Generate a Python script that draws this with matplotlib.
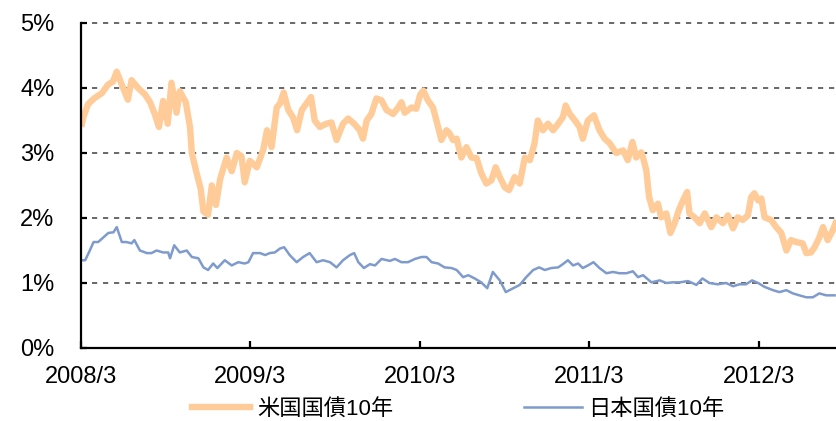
import matplotlib
matplotlib.use("Agg")
import matplotlib.pyplot as plt
import pandas as pd

# Polices : chiffres en Liberation Sans, kanji en Noto Sans CJK JP
plt.rcParams['font.family'] = ['Liberation Sans', 'Noto Sans CJK JP']

# Données (rendement en %)
us_dates = [
    "2008-03-03", "2008-03-06", "2008-03-16", "2008-03-31", "2008-04-15", "2008-04-28",
    "2008-05-09", "2008-05-17", "2008-05-28", "2008-06-10", "2008-06-18", "2008-07-02",
    "2008-07-17", "2008-07-28", "2008-08-07", "2008-08-16", "2008-08-25", "2008-09-04",
    "2008-09-12", "2008-09-23", "2008-09-30", "2008-10-13", "2008-10-22", "2008-10-26",
    "2008-11-05", "2008-11-14", "2008-11-20", "2008-11-30", "2008-12-08", "2008-12-17",
    "2008-12-26", "2009-01-09", "2009-01-20", "2009-01-31", "2009-02-10", "2009-02-17",
    "2009-02-28", "2009-03-15", "2009-03-29", "2009-04-06", "2009-04-16", "2009-04-27",
    "2009-05-04", "2009-05-12", "2009-05-22", "2009-06-01", "2009-06-10", "2009-06-20",
    "2009-06-30", "2009-07-10", "2009-07-18", "2009-07-29", "2009-08-12", "2009-08-23",
    "2009-09-03", "2009-09-17", "2009-09-28", "2009-10-11", "2009-10-23", "2009-10-30",
    "2009-11-07", "2009-11-17", "2009-11-28", "2009-12-09", "2009-12-20", "2010-01-03",
    "2010-01-14", "2010-01-21", "2010-01-28", "2010-02-12", "2010-02-22", "2010-03-02",
    "2010-03-09", "2010-03-19", "2010-03-30", "2010-04-10", "2010-04-17", "2010-04-28",
    "2010-05-05", "2010-05-12", "2010-05-20", "2010-05-30", "2010-06-10", "2010-06-21",
    "2010-07-02", "2010-07-12", "2010-07-23", "2010-08-03", "2010-08-12", "2010-08-21",
    "2010-09-01", "2010-09-10", "2010-09-22", "2010-10-03", "2010-10-14", "2010-10-25",
    "2010-11-04", "2010-11-11", "2010-11-22", "2010-12-03", "2010-12-14", "2010-12-25",
    "2011-01-04", "2011-01-10", "2011-01-19", "2011-01-30", "2011-02-09", "2011-02-16",
    "2011-02-27", "2011-03-12", "2011-03-24", "2011-04-04", "2011-04-15", "2011-04-29",
    "2011-05-14", "2011-05-24", "2011-06-03", "2011-06-11", "2011-06-22", "2011-06-26",
    "2011-07-03", "2011-07-09", "2011-07-17", "2011-07-28", "2011-08-04", "2011-08-15",
    "2011-08-24", "2011-09-02", "2011-09-11", "2011-09-20", "2011-09-29", "2011-10-04",
    "2011-10-15", "2011-10-26", "2011-11-06", "2011-11-20", "2011-12-01", "2011-12-15",
    "2011-12-26", "2012-01-06", "2012-01-16", "2012-01-27", "2012-02-07", "2012-02-14",
    "2012-02-21", "2012-02-29", "2012-03-07", "2012-03-14", "2012-03-28", "2012-04-08",
    "2012-04-19", "2012-04-30", "2012-05-10", "2012-05-21", "2012-06-04", "2012-06-12",
    "2012-06-22", "2012-06-30", "2012-07-10", "2012-07-18", "2012-07-28", "2012-08-08",
    "2012-08-14",
]
us_yield = [
    3.45, 3.55, 3.75, 3.85, 3.92, 4.05,
    4.10, 4.25, 4.05, 3.82, 4.12, 4.00,
    3.90, 3.78, 3.60, 3.40, 3.80, 3.45,
    4.08, 3.62, 3.95, 3.78, 3.40, 3.00,
    2.70, 2.45, 2.10, 2.05, 2.50, 2.20,
    2.60, 2.93, 2.72, 3.00, 2.95, 2.55,
    2.88, 2.78, 3.05, 3.35, 3.09, 3.70,
    3.76, 3.93, 3.66, 3.55, 3.35, 3.66,
    3.76, 3.86, 3.50, 3.40, 3.45, 3.47,
    3.20, 3.45, 3.53, 3.45, 3.35, 3.22,
    3.50, 3.60, 3.84, 3.81, 3.66, 3.60,
    3.70, 3.78, 3.62, 3.70, 3.68, 3.89,
    3.96, 3.81, 3.70, 3.40, 3.20, 3.35,
    3.30, 3.20, 3.22, 2.93, 3.09, 2.93,
    2.92, 2.69, 2.53, 2.58, 2.78, 2.63,
    2.47, 2.43, 2.63, 2.53, 2.93, 2.89,
    3.15, 3.50, 3.35, 3.45, 3.35, 3.45,
    3.55, 3.73, 3.60, 3.50, 3.40, 3.22,
    3.50, 3.58, 3.35, 3.22, 3.15, 3.00,
    3.04, 2.89, 3.17, 2.93, 3.01, 2.93,
    2.73, 2.32, 2.12, 2.22, 2.01, 2.07,
    1.77, 1.92, 2.12, 2.27, 2.40, 2.07,
    2.01, 1.92, 2.07, 1.86, 2.01, 1.92,
    2.04, 1.84, 2.01, 1.97, 2.04, 2.32,
    2.38, 2.27, 2.30, 2.01, 1.97, 1.86,
    1.77, 1.50, 1.66, 1.63, 1.61, 1.46,
    1.47, 1.55, 1.70, 1.86, 1.66, 1.81,
    1.92,
]

jp_dates = [
    "2008-03-03", "2008-03-10", "2008-03-20", "2008-03-28", "2008-04-07", "2008-04-18",
    "2008-04-29", "2008-05-10", "2008-05-17", "2008-05-28", "2008-06-07", "2008-06-18",
    "2008-06-24", "2008-07-06", "2008-07-21", "2008-07-31", "2008-08-11", "2008-08-25",
    "2008-09-05", "2008-09-09", "2008-09-18", "2008-09-30", "2008-10-15", "2008-10-26",
    "2008-11-09", "2008-11-20", "2008-11-30", "2008-12-11", "2008-12-20", "2009-01-05",
    "2009-01-20", "2009-02-03", "2009-02-17", "2009-02-25", "2009-03-07", "2009-03-22",
    "2009-04-02", "2009-04-12", "2009-04-23", "2009-05-04", "2009-05-13", "2009-05-25",
    "2009-06-09", "2009-06-23", "2009-07-07", "2009-07-22", "2009-08-05", "2009-08-20",
    "2009-09-03", "2009-09-17", "2009-10-02", "2009-10-11", "2009-10-20", "2009-11-01",
    "2009-11-14", "2009-11-25", "2009-12-09", "2009-12-27", "2010-01-07", "2010-01-21",
    "2010-02-04", "2010-02-19", "2010-03-05", "2010-03-16", "2010-03-27", "2010-04-10",
    "2010-04-24", "2010-05-09", "2010-05-20", "2010-06-03", "2010-06-14", "2010-06-28",
    "2010-07-12", "2010-07-25", "2010-08-06", "2010-08-21", "2010-09-03", "2010-09-19",
    "2010-10-03", "2010-10-17", "2010-11-01", "2010-11-14", "2010-11-26", "2010-12-10",
    "2010-12-25", "2011-01-04", "2011-01-15", "2011-01-26", "2011-02-06", "2011-02-16",
    "2011-02-27", "2011-03-11", "2011-03-24", "2011-04-08", "2011-04-22", "2011-05-06",
    "2011-05-21", "2011-06-04", "2011-06-15", "2011-06-26", "2011-07-14", "2011-08-01",
    "2011-08-15", "2011-08-29", "2011-09-13", "2011-10-01", "2011-10-19", "2011-11-01",
    "2011-11-16", "2011-12-04", "2011-12-22", "2012-01-06", "2012-01-20", "2012-02-03",
    "2012-02-16", "2012-02-29", "2012-03-14", "2012-04-01", "2012-04-15", "2012-04-30",
    "2012-05-14", "2012-05-28", "2012-06-12", "2012-06-26", "2012-07-10", "2012-07-25",
    "2012-08-12",
]
jp_yield = [
    1.35, 1.35, 1.50, 1.63, 1.63, 1.70,
    1.77, 1.78, 1.86, 1.63, 1.63, 1.61,
    1.66, 1.50, 1.46, 1.46, 1.50, 1.47,
    1.47, 1.38, 1.58, 1.47, 1.50, 1.40,
    1.38, 1.24, 1.20, 1.30, 1.23, 1.35,
    1.27, 1.32, 1.30, 1.32, 1.46, 1.46,
    1.43, 1.46, 1.47, 1.53, 1.55, 1.43,
    1.32, 1.40, 1.46, 1.32, 1.35, 1.32,
    1.24, 1.35, 1.43, 1.46, 1.32, 1.23,
    1.29, 1.27, 1.37, 1.34, 1.37, 1.32,
    1.32, 1.37, 1.40, 1.40, 1.32, 1.30,
    1.24, 1.23, 1.20, 1.09, 1.12, 1.07,
    1.01, 0.92, 1.17, 1.04, 0.86, 0.92,
    0.97, 1.09, 1.20, 1.24, 1.20, 1.23,
    1.24, 1.29, 1.35, 1.27, 1.30, 1.23,
    1.27, 1.32, 1.23, 1.15, 1.17, 1.15,
    1.15, 1.18, 1.09, 1.12, 1.01, 1.04,
    1.00, 1.01, 1.01, 1.03, 0.97, 1.07,
    1.00, 0.98, 1.00, 0.95, 0.98, 0.98,
    1.04, 1.00, 0.94, 0.89, 0.86, 0.89,
    0.84, 0.81, 0.78, 0.78, 0.84, 0.81,
    0.81,
]

tick_dates = ["2008-03-01", "2009-03-01", "2010-03-01", "2011-03-01", "2012-03-01"]
tick_labels = ["2008/3", "2009/3", "2010/3", "2011/3", "2012/3"]
y_ticks = [0, 1, 2, 3, 4, 5]
y_labels = ["0%", "1%", "2%", "3%", "4%", "5%"]

fig = plt.figure(figsize=(8.36, 4.21), dpi=100)
ax = fig.add_axes([0.0969, 0.1734, 0.9031, 0.772])

ax.plot(pd.to_datetime(us_dates), us_yield, color='#FFCC99', linewidth=4.6,
        label='米国国債10年', solid_joinstyle='round')
ax.plot(pd.to_datetime(jp_dates), jp_yield, color='#7F9BCD', linewidth=1.8,
        label='日本国債10年')

ax.set_xlim(pd.Timestamp("2008-03-01"), pd.Timestamp("2012-08-15"))
ax.set_ylim(0, 5)
ax.set_xticks(pd.to_datetime(tick_dates))
ax.set_xticklabels(tick_labels)
ax.set_yticks(y_ticks)
ax.set_yticklabels(y_labels)

# Quadrillage en tirets
for v in y_ticks[1:]:
    ax.axhline(v, color='#404040', linewidth=1.1, dashes=(3.4, 3.8), zorder=0,
               clip_on=False)

ax.spines['top'].set_visible(False)
ax.spines['right'].set_visible(False)
ax.spines['left'].set_linewidth(1.6)
ax.spines['bottom'].set_linewidth(1.6)
ax.tick_params(axis='y', direction='in', length=4, width=1.6, pad=19, labelsize=17)
ax.tick_params(axis='x', direction='in', length=5, width=1.6, pad=13, labelsize=17)

ax.legend(loc='center', bbox_to_anchor=(0.5, -0.188), ncol=2, frameon=False,
          fontsize=16, handlelength=2.6, handletextpad=0.3, columnspacing=5.9)

fig.savefig('out.png', dpi=100)
